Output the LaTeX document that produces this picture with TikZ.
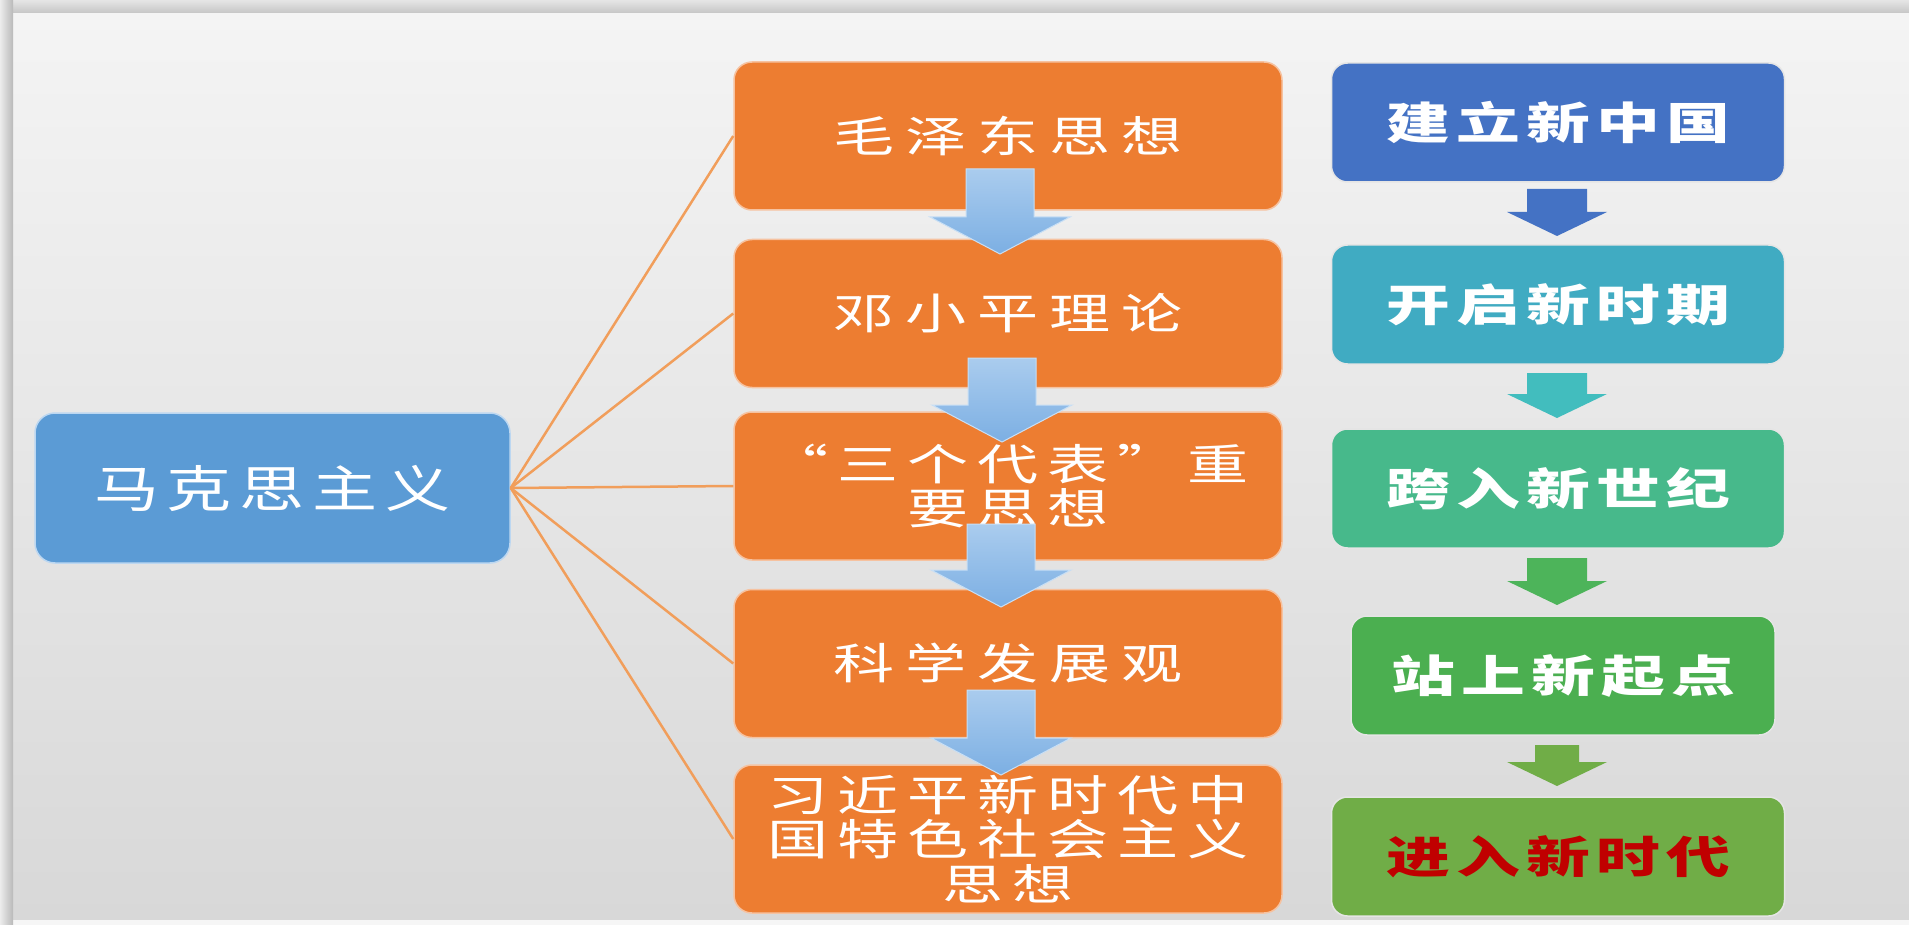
\documentclass[tikz,border=0pt]{standalone}
\usepackage{fontspec}
\usetikzlibrary{calc}
\newfontfamily\cjk[FakeStretch=1.42]{Noto Sans CJK SC}
\newfontfamily\cjkm[FakeStretch=1.3]{Noto Sans CJK SC}
\newfontfamily\cjkw[FakeStretch=1.45]{Noto Sans CJK SC}
\definecolor{bgtop}{HTML}{F4F4F4}
\definecolor{bgbot}{HTML}{D8D8D8}
\definecolor{orgfill}{HTML}{ED7D31}
\definecolor{orgline}{HTML}{F6C2A0}
\definecolor{marxfill}{HTML}{5B9BD5}
\definecolor{marxline}{HTML}{BCD7F1}
\definecolor{connc}{HTML}{F19E5B}
\definecolor{rA}{HTML}{4472C4}
\definecolor{rB}{HTML}{40ABC2}
\definecolor{rC}{HTML}{47B98B}
\definecolor{rD}{HTML}{4BAF50}
\definecolor{rE}{HTML}{70AD47}
\definecolor{aB}{HTML}{42BDBE}
\definecolor{aC}{HTML}{4DB45A}
\definecolor{redtxt}{HTML}{C00000}
\definecolor{barrowtop}{HTML}{AACCEE}
\definecolor{barrowbot}{HTML}{7CAFE3}
\definecolor{barrowline}{HTML}{C8DFF5}
\ExplSyntaxOn
\NewDocumentCommand\spc{mm}{\tl_map_inline:nn{#2}{\makebox[#1pt][c]{##1}}}
\ExplSyntaxOff
\newcommand\tightlines{\lineskiplimit=-100pt\relax\lineskip=0pt\relax}
\newcommand\blockarrow[6]{%
  \path[#6] let \p1=(#1), \p2=(#2) in
   (\x1-#3pt,\y1) -- (\x1+#3pt,\y1) -- (\x1+#3pt,\y2+#5pt) -- (\x1+#4pt,\y2+#5pt)
   -- (\x1,\y2) -- (\x1-#4pt,\y2+#5pt) -- (\x1-#3pt,\y2+#5pt) -- cycle;}
\begin{document}
\begin{tikzpicture}[x=1pt,y=-1pt,
  mbox/.style={rectangle, rounded corners=20pt, fill=marxfill, draw=marxline, line width=1.5pt,
    minimum width=475pt, minimum height=150pt, inner sep=0pt, text=white,
    font=\cjkm\fontsize{50}{54}\selectfont},
  obox/.style={rectangle, rounded corners=18pt, fill=orgfill, draw=orgline, line width=1.5pt,
    minimum width=548pt, minimum height=148pt, inner sep=0pt, text=white, align=center,
    font=\cjk\fontsize{43}{44.5}\selectfont\tightlines},
  rbox/.style={rectangle, rounded corners=16pt, draw=white!80!gray, line width=1.5pt,
    minimum width=453pt, minimum height=119pt, inner sep=0pt, text=white,
    font=\cjkw\bfseries\fontsize{44}{48}\selectfont},
  conn/.style={draw=connc, line width=2.5pt},
  bluearrow/.style={top color=barrowtop, bottom color=barrowbot, draw=barrowline, line width=1pt},
]
\useasboundingbox (0,0) rectangle (1909,925);
% background frame
\fill[gray!40] (0,0) rectangle (1909,925);
\shade[top color=bgtop, bottom color=bgbot] (13,13) rectangle (1909,920);
\fill[white!93!gray] (13,920) rectangle (1909,925);
\shade[top color=white!80!gray, bottom color=white!55!gray] (13,0) rectangle (1909,13);
\shade[left color=white!85!gray, right color=white!45!gray] (0,0) rectangle (13,925);

% main nodes
\node[mbox] (m) at (272.5,488) {\spc{73}{马克思主义}};
\node[obox] (o1) at (1008,136) {\spc{72}{毛泽东思想}};
\node[obox] (o2) at (1008,313.5) {\spc{72}{邓小平理论}};
\node[obox] (o3) at (1008,486) {\spc{70}{“三个代表”重}\\\spc{70}{要思想}};
\node[obox] (o4) at (1008,663.5) {\spc{72}{科学发展观}};
\node[obox] (o5) at (1008,839) {\spc{70}{习近平新时代中}\\\spc{70}{国特色社会主义}\\\spc{70}{思想}};

% right column
\node[rbox, fill=rA] (r1) at (1558,122.5) {\spc{70}{建立新中国}};
\node[rbox, fill=rB] (r2) at (1558,304.5) {\spc{70}{开启新时期}};
\node[rbox, fill=rC] (r3) at (1558,488.5) {\spc{70}{跨入新世纪}};
\node[rbox, fill=rD, minimum width=424pt] (r4) at (1563,675.5) {\spc{70}{站上新起点}};
\node[rbox, fill=rE, text=redtxt] (r5) at (1558,856.5) {\spc{70}{进入新时代}};

% connectors
\draw[conn] (m.east) -- (o1.west);
\draw[conn] (m.east) -- (o2.west);
\draw[conn] (m.east) -- (o3.west);
\draw[conn] (m.east) -- (o4.west);
\draw[conn] (m.east) -- (o5.west);

% blue block arrows between orange boxes
\coordinate (ba1) at (1000,169); \coordinate (bb1) at (1000,254);
\coordinate (ba2) at (1002,358); \coordinate (bb2) at (1002,442);
\coordinate (ba3) at (1001,524); \coordinate (bb3) at (1001,607);
\coordinate (ba4) at (1001,690); \coordinate (bb4) at (1001,775);
\blockarrow{ba1}{bb1}{34}{70}{37}{bluearrow}
\blockarrow{ba2}{bb2}{34}{70}{37}{bluearrow}
\blockarrow{ba3}{bb3}{34}{70}{37}{bluearrow}
\blockarrow{ba4}{bb4}{34}{70}{37}{bluearrow}

% right column arrows
\coordinate (ra1) at (1557,189); \coordinate (rb1) at (1557,236);
\coordinate (ra2) at (1557,373); \coordinate (rb2) at (1557,418);
\coordinate (ra3) at (1557,558); \coordinate (rb3) at (1557,605);
\coordinate (ra4) at (1557,745); \coordinate (rb4) at (1557,786);
\blockarrow{ra1}{rb1}{30}{50}{24}{fill=rA}
\blockarrow{ra2}{rb2}{30}{50}{24}{fill=aB}
\blockarrow{ra3}{rb3}{30}{50}{24}{fill=aC}
\blockarrow{ra4}{rb4}{22}{50}{24}{fill=rE}
\end{tikzpicture}
\end{document}
